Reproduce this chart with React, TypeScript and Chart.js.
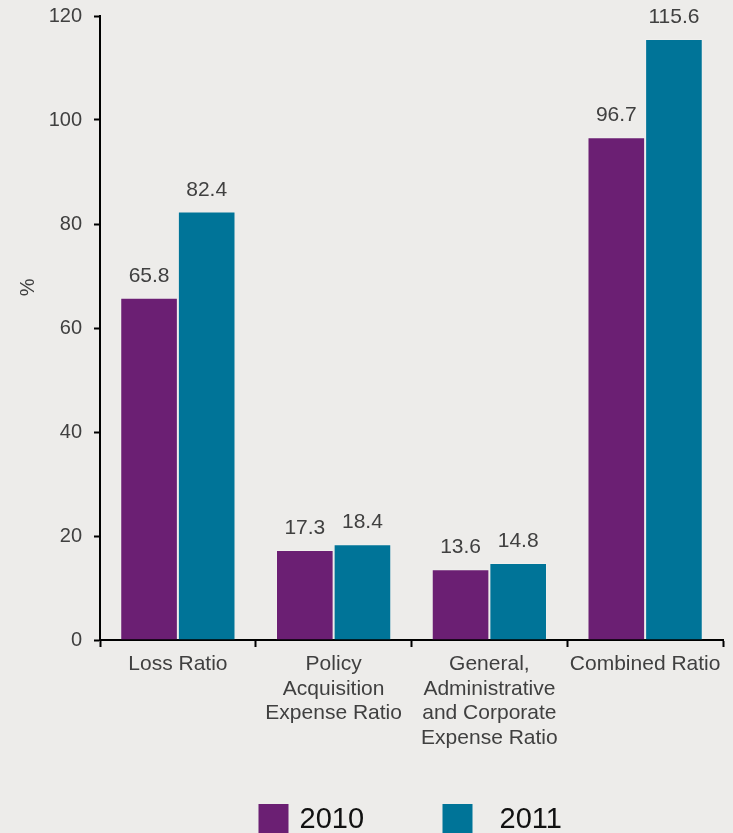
import React, { useEffect, useRef } from "react";
import { Chart, registerables } from "chart.js";

Chart.register(...registerables);

const categories: (string | string[])[] = [
  "Loss Ratio",
  ["Policy", "Acquisition", "Expense Ratio"],
  ["General,", "Administrative", "and Corporate", "Expense Ratio"],
  "Combined Ratio",
];
const seriesNames = ["2010", "2011"];
const values2010 = [65.8, 17.3, 13.6, 96.7];
const values2011 = [82.4, 18.4, 14.8, 115.6];
const yTicks = [0, 20, 40, 60, 80, 100, 120];
const yTitle = "%";

const PURPLE = "#6B1F73";
const TEAL = "#007498";
const BG = "#EDECEA";
const TEXT = "#404040";
const FONT = "'Liberation Sans', Arial, Helvetica, sans-serif";

const valueLabels = {
  id: "valueLabels",
  afterDatasetsDraw(chart: any) {
    const ctx = chart.ctx;
    ctx.save();
    ctx.font = `21px ${FONT}`;
    ctx.fillStyle = TEXT;
    ctx.textAlign = "center";
    ctx.textBaseline = "alphabetic";
    chart.data.datasets.forEach((ds: any, di: number) => {
      const meta = chart.getDatasetMeta(di);
      meta.data.forEach((el: any, i: number) => {
        const v = ds.data[i];
        ctx.fillText(v.toFixed(1), el.x, el.y - 16);
      });
    });
    ctx.restore();
  },
};

const axisTitle = {
  id: "axisTitle",
  afterDraw(chart: any) {
    const ctx = chart.ctx;
    const area = chart.chartArea;
    ctx.save();
    ctx.font = `20px ${FONT}`;
    ctx.fillStyle = TEXT;
    ctx.textAlign = "center";
    ctx.textBaseline = "middle";
    ctx.translate(28, area.top + (area.bottom - area.top) * 0.435);
    ctx.rotate(-Math.PI / 2);
    ctx.fillText(yTitle, 0, 0);
    ctx.restore();
  },
};

const customLegend = {
  id: "customLegend",
  afterDraw(chart: any) {
    const ctx = chart.ctx;
    const area = chart.chartArea;
    const cx = (area.left + area.right) / 2;
    const colors = [PURPLE, TEAL];
    const boxOffsets = [-153, 31];
    const textOffsets = [41, 57];
    ctx.save();
    ctx.font = `29px ${FONT}`;
    ctx.textBaseline = "alphabetic";
    ctx.textAlign = "left";
    seriesNames.forEach((name, i) => {
      const bx = cx + boxOffsets[i];
      ctx.fillStyle = colors[i];
      ctx.fillRect(bx, 804, 30, 30);
      ctx.fillStyle = "#111111";
      ctx.fillText(name, bx + textOffsets[i], 828);
    });
    ctx.restore();
  },
};

export default function App() {
  const ref = useRef<HTMLCanvasElement | null>(null);
  useEffect(() => {
    if (!ref.current) return;
    const chart = new Chart(ref.current, {
      type: "bar",
      data: {
        labels: categories,
        datasets: [
          {
            label: seriesNames[0],
            data: values2010,
            backgroundColor: PURPLE,
            borderColor: "rgba(255,255,255,0.18)",
            borderWidth: 1,
            categoryPercentage: 0.74,
            barPercentage: 1,
          },
          {
            label: seriesNames[1],
            data: values2011,
            backgroundColor: TEAL,
            borderColor: "rgba(255,255,255,0.18)",
            borderWidth: 1,
            categoryPercentage: 0.74,
            barPercentage: 1,
          },
        ],
      },
      options: {
        animation: false,
        responsive: false,
        maintainAspectRatio: false,
        layout: { padding: { left: 0, right: 10, top: 16, bottom: 73 } },
        plugins: {
          legend: { display: false },
          tooltip: { enabled: false },
          title: { display: false },
        },
        scales: {
          x: {
            offset: true,
            grid: {
              offset: true,
              drawOnChartArea: false,
              drawTicks: true,
              tickLength: 7,
              tickWidth: 2,
              tickColor: "#000",
            },
            border: { display: true, color: "#000", width: 2 },
            ticks: {
              color: TEXT,
              font: { family: FONT, size: 21, lineHeight: 1.17 },
              padding: 5,
              maxRotation: 0,
              autoSkip: false,
            },
            afterFit: (s: any) => {
              s.height = 120;
            },
          },
          y: {
            min: 0,
            max: 120,
            afterBuildTicks: (s: any) => {
              s.ticks = yTicks.map((v) => ({ value: v }));
            },
            grid: {
              drawOnChartArea: false,
              drawTicks: true,
              tickLength: 6,
              tickWidth: 2,
              tickColor: "#000",
            },
            border: { display: true, color: "#000", width: 2 },
            ticks: {
              color: TEXT,
              font: { family: FONT, size: 20 },
              padding: 12,
            },
            afterFit: (s: any) => {
              s.width = 100;
              s.paddingTop = 0;
            },
          },
        },
      },
      plugins: [valueLabels, axisTitle, customLegend],
    });
    return () => chart.destroy();
  }, []);
  return (
    <div
      style={{
        position: "fixed",
        left: 0,
        top: 0,
        width: 733,
        height: 833,
        background: BG,
      }}
    >
      <canvas ref={ref} width={733} height={833} style={{ display: "block" }} />
    </div>
  );
}
